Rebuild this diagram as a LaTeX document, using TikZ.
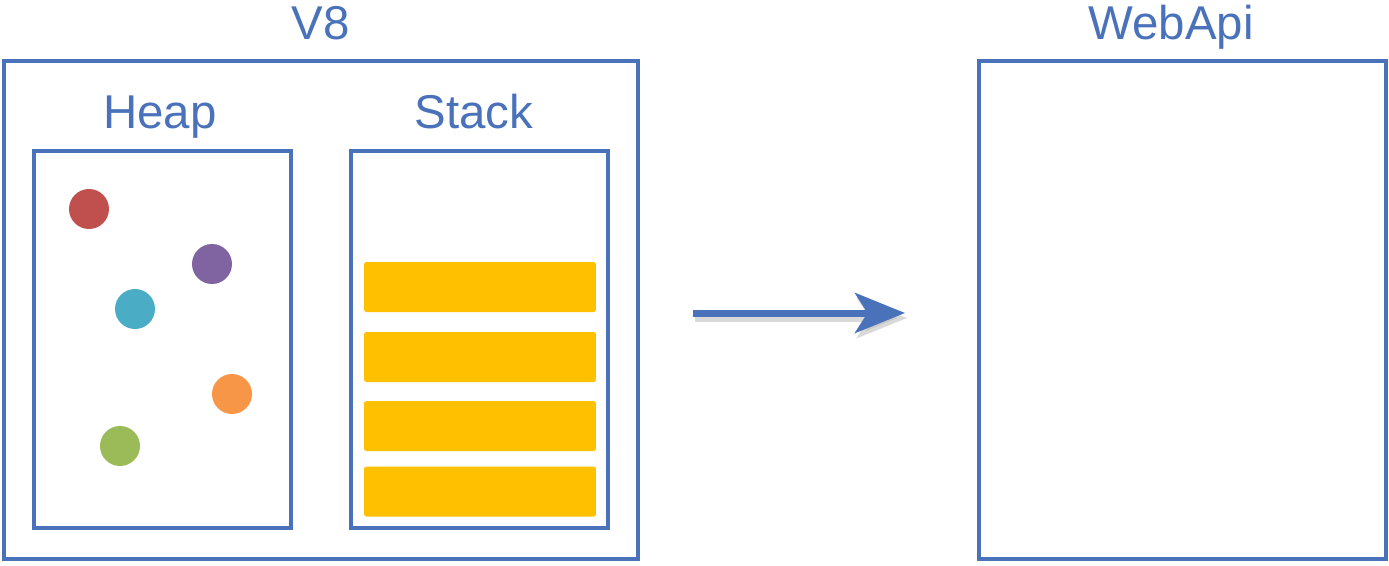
\documentclass[tikz,border=0pt]{standalone}
\usepackage{fontspec}
\setmainfont{Liberation Sans}
\usetikzlibrary{positioning, arrows.meta}

\definecolor{boxblue}{HTML}{4A72BA}
\definecolor{dotred}{HTML}{C0504D}
\definecolor{dotpurple}{HTML}{8064A2}
\definecolor{dotcyan}{HTML}{4BACC6}
\definecolor{dotorange}{HTML}{F79646}
\definecolor{dotgreen}{HTML}{9BBB59}
\definecolor{frameyellow}{HTML}{FFC000}

\begin{document}
\begin{tikzpicture}[x=0.02cm, y=-0.02cm, >=Stealth,
    area/.style={draw=boxblue, line width=0.08cm, inner sep=0pt, outer sep=0pt},
    title/.style={text=boxblue, font=\fontsize{27}{32}\selectfont, anchor=base, inner sep=0pt},
    frame/.style={fill=frameyellow, rounded corners=1pt, minimum width=4.64cm, minimum height=1cm, inner sep=0pt},
    dot/.style={circle, minimum size=0.8cm, inner sep=0pt}
  ]
	\useasboundingbox (0,0) rectangle (1389,565);

	% boxes
	\node[area, minimum width=12.68cm, minimum height=9.96cm] (v8)     at (321,310)    {};
	\node[area, minimum width=5.14cm,  minimum height=7.54cm] (heap)   at (162.5,339.5) {};
	\node[area, minimum width=5.14cm,  minimum height=7.54cm] (stack)  at (479.5,339.5) {};
	\node[area, minimum width=8.14cm,  minimum height=9.96cm] (webapi) at (1182.5,310)  {};

	% titles
	\node[title] (v8title)     at (321,39)    {V8};
	\node[title] (heaptitle)   at (160,128)   {Heap};
	\node[title] (stacktitle)  at (474,128)   {Stack};
	\node[title] (webapititle) at (1171,39)   {WebApi};

	% heap objects
	\node[dot, fill=dotred]    (obj1) at (89,209)  {};
	\node[dot, fill=dotpurple] (obj2) at (212,264) {};
	\node[dot, fill=dotcyan]   (obj3) at (135,309) {};
	\node[dot, fill=dotorange] (obj4) at (232,394) {};
	\node[dot, fill=dotgreen]  (obj5) at (120,446) {};

	% stack frames
	\node[frame] (f1) at (480,287)   {};
	\node[frame] (f2) at (480,357)   {};
	\node[frame] (f3) at (480,426)   {};
	\node[frame] (f4) at (480,491.5) {};

	% call goes out
	\coordinate (out) at (693,313);
	\coordinate (in)  at (905,313);
	\draw[black!25, opacity=0.6, line width=0.14cm, -{Stealth[length=1cm, width=0.8cm, inset=0.25cm]}]
		([shift={(2,5)}]out) -- ([shift={(2,5)}]in);
	\draw[boxblue, line width=0.14cm, -{Stealth[length=1cm, width=0.8cm, inset=0.25cm]}] (out) -- (in);
\end{tikzpicture}
\end{document}
